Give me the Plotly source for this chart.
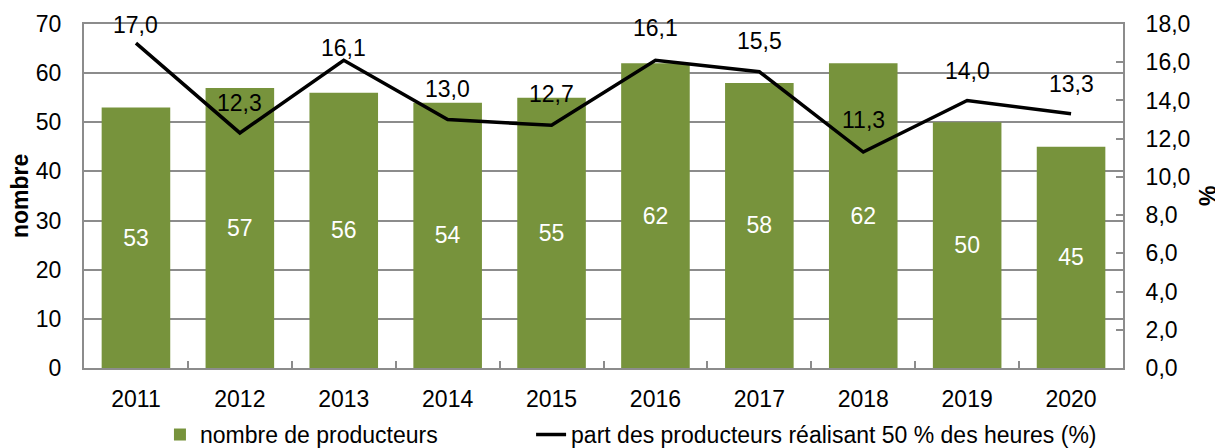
import plotly.graph_objects as go

years = ["2011", "2012", "2013", "2014", "2015", "2016", "2017", "2018", "2019", "2020"]
producteurs = [53, 57, 56, 54, 55, 62, 58, 62, 50, 45]
part_pct = [17.0, 12.3, 16.1, 13.0, 12.7, 16.1, 15.5, 11.3, 14.0, 13.3]
label_shift = [18, 30, 12, 31, 31, 32, 31, 32, 29, 30]

FONT = "Liberation Sans, Arial, sans-serif"
GREEN = "#77933C"
GRID = "#8C8C8C"
FS = 23

fig = go.Figure()
fig.add_trace(go.Bar(
    x=years, y=producteurs, name="nombre de producteurs",
    marker=dict(color=GREEN, line=dict(width=0)),
    text=[str(v) for v in producteurs], textposition="inside",
    insidetextanchor="middle", textangle=0,
    textfont=dict(color="white", size=FS, family=FONT),
    legend="legend",
))
fig.add_trace(go.Scatter(
    x=years, y=part_pct, yaxis="y2", mode="lines",
    name="part des producteurs réalisant 50 % des heures (%)",
    line=dict(color="black", width=3.5),
    legend="legend2",
))

for i, (v, s) in enumerate(zip(part_pct, label_shift)):
    fig.add_annotation(x=i, y=v, yref="y2", text=f"{v:.1f}".replace(".", ","),
                       showarrow=False, yanchor="middle", yshift=s,
                       font=dict(size=FS, color="black", family=FONT))

fig.add_annotation(xref="paper", yref="paper", x=0, y=0.5, xshift=-64,
                   xanchor="center", yanchor="middle",
                   text="<b>nombre</b>", textangle=-90, showarrow=False,
                   font=dict(size=FS, color="black", family=FONT))
fig.add_annotation(xref="paper", yref="paper", x=1, y=0.5, xshift=85,
                   xanchor="center", yanchor="middle",
                   text="<b>%</b>", textangle=-90, showarrow=False,
                   font=dict(size=FS, color="black", family=FONT))

legend_common = dict(orientation="h", xanchor="left", y=-0.131, yanchor="top",
                     font=dict(size=FS), bgcolor="rgba(0,0,0,0)")

fig.update_layout(
    width=1215, height=440,
    margin=dict(l=76, r=100, t=16, b=80, autoexpand=False),
    paper_bgcolor="white", plot_bgcolor="white",
    font=dict(family=FONT, size=FS, color="black"),
    separators=", ",
    bargap=0.34,
    showlegend=True,
    legend=dict(x=0.0731, **legend_common),
    legend2=dict(x=0.4303, **legend_common),
    xaxis=dict(type="category", range=[-0.5, 9.5], showline=True, linecolor=GRID,
               linewidth=2, mirror=True, ticks="inside", tickson="boundaries",
               ticklen=7, tickcolor=GRID, tickwidth=2, ticklabelstandoff=9,
               tickangle=0, showgrid=False, automargin=False),
    yaxis=dict(range=[0, 70], dtick=10, showgrid=True, gridcolor=GRID,
               gridwidth=2, showline=True, linecolor=GRID, linewidth=2,
               ticks="", ticklabelstandoff=16, zeroline=False, automargin=False),
    yaxis2=dict(range=[0, 18], dtick=2, tickformat=".1f", overlaying="y",
                side="right", showgrid=False, showline=True, linecolor=GRID,
                linewidth=2, ticks="inside", ticklen=7, tickcolor=GRID,
                tickwidth=2, ticklabelstandoff=16, zeroline=False, automargin=False),
)

fig.write_html("out.html")
